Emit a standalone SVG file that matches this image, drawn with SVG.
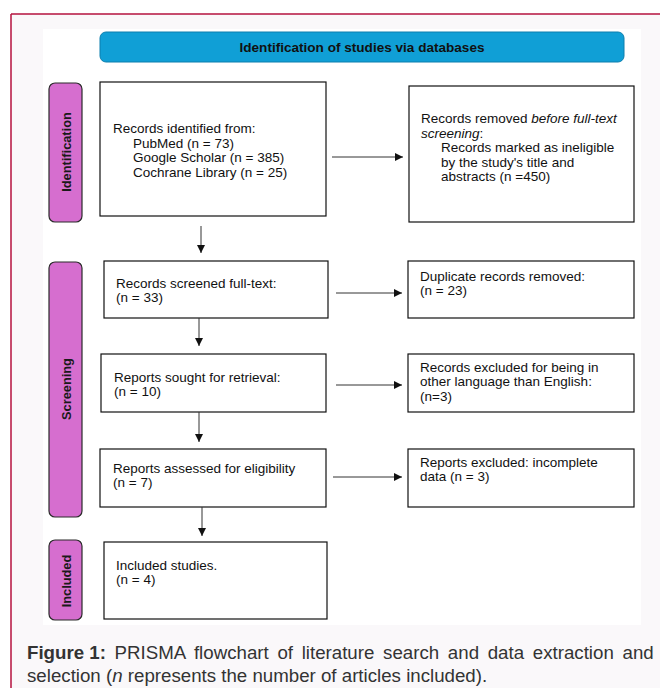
<svg xmlns="http://www.w3.org/2000/svg" width="660" height="688" viewBox="0 0 660 688">
<style>
text{font-family:"Liberation Sans",Arial,sans-serif;fill:#111}
.t{font-size:13.5px}
.box{fill:#fff;stroke:#111;stroke-width:1.2}
.side{fill:#d66ecf;stroke:#2a2a2a;stroke-width:1.2}
.sl{font-size:12.8px;font-weight:bold;fill:#1a1a1a}
.con line{stroke:#333;stroke-width:1}
.cap{font-size:18.7px;fill:#333}
</style>
<defs>
<marker id="ah" viewBox="0 0 10 10" refX="10" refY="5" markerWidth="8" markerHeight="8" markerUnits="userSpaceOnUse" orient="auto">
<path d="M0,0 L10,5 L0,10 z" fill="#111"/>
</marker>
</defs>
<rect x="0" y="0" width="660" height="688" fill="#fff"/>
<rect x="11" y="14" width="649" height="674" fill="#faf8fa"/>
<line x1="11" y1="14" x2="660" y2="14" stroke="#b5123e" stroke-width="1.5"/>
<line x1="11" y1="14" x2="11" y2="688" stroke="#b5123e" stroke-width="1.5"/>
<rect x="43" y="29" width="598" height="596" fill="#fff"/>

<g id="header">
<rect x="100" y="32" width="524" height="30" rx="6" fill="#109fd6" stroke="#0d7fae" stroke-width="1"/>
<text x="362" y="51.5" text-anchor="middle" font-size="13" font-weight="bold" textLength="245" lengthAdjust="spacingAndGlyphs">Identification of studies via databases</text>
</g>

<g id="side-identification">
<rect class="side" x="49" y="83" width="33" height="139" rx="6"/>
<text class="sl" transform="translate(70.5,152) rotate(-90)" text-anchor="middle">Identification</text>
</g>
<g id="side-screening">
<rect class="side" x="49" y="262" width="33" height="255" rx="6"/>
<text class="sl" transform="translate(70.5,389) rotate(-90)" text-anchor="middle">Screening</text>
</g>
<g id="side-included">
<rect class="side" x="49" y="540" width="33" height="80" rx="6"/>
<text class="sl" transform="translate(70.5,581) rotate(-90)" text-anchor="middle">Included</text>
</g>

<g id="records-identified">
<rect class="box" x="100" y="82" width="226" height="134"/>
<text class="t" x="113" y="133">Records identified from:</text>
<text class="t" x="133" y="148">PubMed (n = 73)</text>
<text class="t" x="133" y="162">Google Scholar (n = 385)</text>
<text class="t" x="133" y="177">Cochrane Library (n = 25)</text>
</g>

<g id="records-removed">
<rect class="box" x="409" y="86" width="225" height="136"/>
<text class="t" x="421" y="123">Records removed <tspan font-style="italic">before full-text</tspan></text>
<text class="t" x="421" y="138"><tspan font-style="italic">screening</tspan>:</text>
<text class="t" x="441" y="152">Records marked as ineligible</text>
<text class="t" x="441" y="167">by the study's title and</text>
<text class="t" x="441" y="181">abstracts (n =450)</text>
</g>

<g id="records-screened">
<rect class="box" x="104" y="261" width="224" height="57"/>
<text class="t" x="116" y="288">Records screened full-text:</text>
<text class="t" x="116" y="302">(n = 33)</text>
</g>

<g id="duplicates">
<rect class="box" x="408" y="261" width="226" height="57"/>
<text class="t" x="420" y="281" font-size="14.5">Duplicate records removed:</text>
<text class="t" x="420" y="295" font-size="14.5">(n = 23)</text>
</g>

<g id="reports-sought">
<rect class="box" x="101" y="354" width="225" height="58"/>
<text class="t" x="114" y="382" font-size="13.2">Reports sought for retrieval:</text>
<text class="t" x="114" y="396" font-size="13.2">(n = 10)</text>
</g>

<g id="records-excluded">
<rect class="box" x="408" y="354" width="226" height="58"/>
<text class="t" x="420" y="372">Records excluded for being in</text>
<text class="t" x="420" y="386">other language than English:</text>
<text class="t" x="420" y="401">(n=3)</text>
</g>

<g id="reports-assessed">
<rect class="box" x="100" y="449" width="226" height="58"/>
<text class="t" x="113" y="473">Reports assessed for eligibility</text>
<text class="t" x="113" y="487">(n = 7)</text>
</g>

<g id="reports-excluded">
<rect class="box" x="408" y="449" width="226" height="58"/>
<text class="t" x="420" y="467" font-size="14.1">Reports excluded: incomplete</text>
<text class="t" x="420" y="481" font-size="14.1">data (n = 3)</text>
</g>

<g id="included-studies">
<rect class="box" x="104" y="542" width="223" height="77"/>
<text class="t" x="116" y="570" font-size="13">Included studies.</text>
<text class="t" x="116" y="584" font-size="13">(n = 4)</text>
</g>

<g id="connectors" class="con">
<line x1="332" y1="157" x2="403" y2="157" marker-end="url(#ah)"/>
<line x1="201" y1="226" x2="201" y2="253" marker-end="url(#ah)"/>
<line x1="336" y1="293" x2="402" y2="293" marker-end="url(#ah)"/>
<line x1="199" y1="318" x2="199" y2="346" marker-end="url(#ah)"/>
<line x1="336" y1="385" x2="402" y2="385" marker-end="url(#ah)"/>
<line x1="199" y1="412" x2="199" y2="442" marker-end="url(#ah)"/>
<line x1="333" y1="477" x2="402" y2="477" marker-end="url(#ah)"/>
<line x1="202" y1="507" x2="202" y2="536" marker-end="url(#ah)"/>
</g>

<g id="caption">
<text class="cap" x="27" y="659"><tspan font-weight="bold">Figure 1:</tspan><tspan word-spacing="3.5"> PRISMA flowchart of literature search and data extraction and</tspan></text>
<text class="cap" x="27" y="682">selection (<tspan font-style="italic">n</tspan> represents the number of articles included).</text>
</g>
</svg>
